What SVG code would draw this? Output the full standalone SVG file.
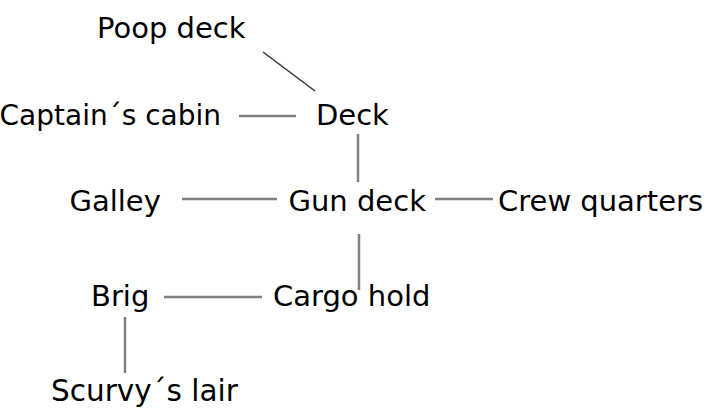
<svg xmlns="http://www.w3.org/2000/svg" width="711" height="418" viewBox="0 0 711 418">
<style>
text{font-family:"DejaVu Sans","Liberation Sans",sans-serif;font-size:29px;fill:#000}
.c{stroke:#808080;stroke-width:2.5;fill:none}
.t{stroke:#333;stroke-width:1.5;fill:none}
</style>
<rect width="711" height="418" fill="#fff"/>
<g id="connectors">
<line class="t" x1="263" y1="52" x2="315" y2="91"/>
<line class="c" x1="239" y1="116" x2="296" y2="116"/>
<line class="c" x1="358" y1="134" x2="358" y2="182"/>
<line class="c" x1="182" y1="199" x2="277" y2="199"/>
<line class="c" x1="435" y1="199" x2="493" y2="199"/>
<line class="c" x1="359" y1="234" x2="359" y2="290"/>
<line class="c" x1="164" y1="297" x2="262" y2="297"/>
<line class="c" x1="125" y1="317" x2="125" y2="373"/>
</g>
<g id="poop"><text x="97" y="38">Poop deck</text></g>
<g id="captain"><text x="221" y="125" text-anchor="end" style="font-size:28px">Captain´s cabin</text></g>
<g id="deck"><text x="316" y="125">Deck</text></g>
<g id="galley"><text x="69.5" y="211">Galley</text></g>
<g id="gundeck"><text x="288.5" y="211">Gun deck</text></g>
<g id="crew"><text x="498" y="211">Crew quarters</text></g>
<g id="brig"><text x="91" y="306">Brig</text></g>
<g id="cargo"><text x="273" y="306">Cargo hold</text></g>
<g id="scurvy"><text x="51" y="401" style="font-size:29.5px">Scurvy´s lair</text></g>
</svg>
